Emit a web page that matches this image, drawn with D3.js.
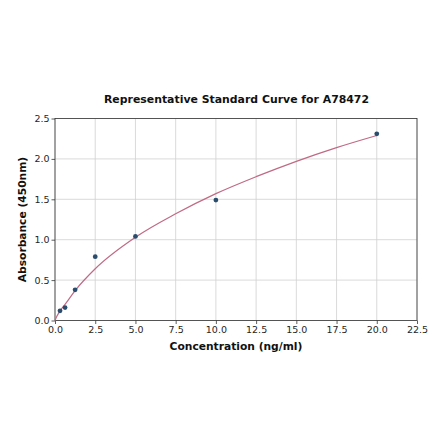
<!DOCTYPE html>
<html>
<head>
<meta charset="utf-8">
<script src="https://cdn.jsdelivr.net/npm/d3@7"></script>
<style>
  body { margin: 0; background: #fff; }
  text { font-family: "DejaVu Sans", sans-serif; }
</style>
</head>
<body>
<svg id="chart" width="440" height="441"></svg>
<script>
// measured standards
const concentrations = [0.3125, 0.625, 1.25, 2.5, 5, 10, 20];
const absorbances = [0.12, 0.16, 0.38, 0.79, 1.04, 1.49, 2.31];

// fitted curve
const curveConc = [0, 0.1, 0.3125, 0.625, 1.25, 2.5, 5, 7.5, 10, 12.5, 15, 17.5, 20];
const curveAbs = [0, 0.045, 0.12, 0.2, 0.37, 0.64, 1.03, 1.32, 1.57, 1.78, 1.97, 2.14, 2.29];

const xTicks = [0, 2.5, 5, 7.5, 10, 12.5, 15, 17.5, 20, 22.5];
const yTicks = [0, 0.5, 1.0, 1.5, 2.0, 2.5];

const svg = d3.select("#chart");
const margin = { top: 118.5, right: 23, bottom: 120.5, left: 55 };
const width = 440, height = 441;

const x = d3.scaleLinear().domain([0, 22.5]).range([margin.left, width - margin.right]);
const y = d3.scaleLinear().domain([0, 2.5]).range([height - margin.bottom, margin.top]);

// grid
svg.append("g")
  .selectAll("line")
  .data(xTicks)
  .enter().append("line")
  .attr("x1", d => x(d)).attr("x2", d => x(d))
  .attr("y1", y(0)).attr("y2", y(2.5))
  .attr("stroke", "#d0d0d0").attr("stroke-width", 0.8);

svg.append("g")
  .selectAll("line")
  .data(yTicks)
  .enter().append("line")
  .attr("x1", x(0)).attr("x2", x(22.5))
  .attr("y1", d => y(d)).attr("y2", d => y(d))
  .attr("stroke", "#d0d0d0").attr("stroke-width", 0.8);

// axes
const xAxis = svg.append("g")
  .attr("transform", `translate(0,${y(0)})`)
  .call(d3.axisBottom(x).tickValues(xTicks).tickFormat(d3.format(".1f")).tickSize(3.5).tickPadding(2));

const yAxis = svg.append("g")
  .attr("transform", `translate(${x(0)},0)`)
  .call(d3.axisLeft(y).tickValues(yTicks).tickFormat(d3.format(".1f")).tickSize(3.5).tickPadding(2));

[xAxis, yAxis].forEach(g => {
  g.select(".domain").remove();
  g.selectAll("line").attr("stroke", "#333").attr("stroke-width", 0.8);
  g.selectAll("text").attr("font-size", 9.5).attr("fill", "#262626")
    .style("font-family", "'DejaVu Sans', sans-serif");
});

// frame
svg.append("rect")
  .attr("x", x(0)).attr("y", y(2.5))
  .attr("width", x(22.5) - x(0)).attr("height", y(0) - y(2.5))
  .attr("fill", "none").attr("stroke", "#333").attr("stroke-width", 0.8);

// fitted curve
const line = d3.line()
  .x((d, i) => x(curveConc[i]))
  .y(d => y(d))
  .curve(d3.curveMonotoneX);

svg.append("path")
  .datum(curveAbs)
  .attr("d", line)
  .attr("fill", "none")
  .attr("stroke", "#c06a85")
  .attr("stroke-width", 1.2);

// points
svg.append("g")
  .selectAll("circle")
  .data(absorbances)
  .enter().append("circle")
  .attr("cx", (d, i) => x(concentrations[i]))
  .attr("cy", d => y(d))
  .attr("r", 2.4)
  .attr("fill", "#2a4d6e");

// titles
svg.append("text")
  .attr("x", (x(0) + x(22.5)) / 2 + 0.5)
  .attr("y", 103)
  .attr("text-anchor", "middle")
  .attr("font-size", 10.9)
  .attr("font-weight", "bold")
  .attr("fill", "#111")
  .text("Representative Standard Curve for A78472");

svg.append("text")
  .attr("x", (x(0) + x(22.5)) / 2)
  .attr("y", 350)
  .attr("text-anchor", "middle")
  .attr("font-size", 10.7)
  .attr("font-weight", "bold")
  .attr("fill", "#111")
  .text("Concentration (ng/ml)");

svg.append("text")
  .attr("transform", `translate(26,${(y(0) + y(2.5)) / 2}) rotate(-90)`)
  .attr("text-anchor", "middle")
  .attr("font-size", 10.7)
  .attr("font-weight", "bold")
  .attr("fill", "#111")
  .text("Absorbance (450nm)");
</script>
</body>
</html>
